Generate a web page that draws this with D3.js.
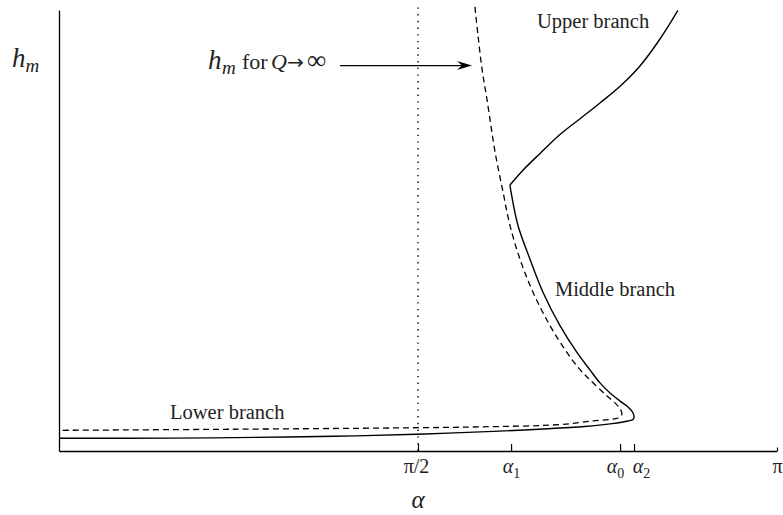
<!DOCTYPE html>
<html>
<head>
<meta charset="utf-8">
<script src="https://cdn.jsdelivr.net/npm/d3@7"></script>
<style>
  html, body { margin: 0; padding: 0; background: #fff; }
  svg { display: block; }
  .lbl { font-family: "Liberation Serif", "Times New Roman", serif; fill: #222; }
  .math { font-family: "Liberation Serif", "Times New Roman", serif; font-style: italic; fill: #222; }
</style>
</head>
<body>
<svg id="chart" width="783" height="515"></svg>
<script>
// Branches of h_m as a function of the angle alpha (radians).
// Lower + middle branch: from alpha = 0 out to the turning point alpha_2, then back up to the cusp at alpha_1.
const lowerMiddleAlpha = [0, 0.5, 1.0, 1.3, 1.6, 1.9, 2.1, 2.3, 2.42, 2.49, 2.512, 2.516, 2.512, 2.485, 2.455, 2.411, 2.367, 2.323, 2.267, 2.192, 2.118, 2.061, 2.008, 1.978, 1.973];
const lowerMiddleH     = [0.0288, 0.0292, 0.0316, 0.0344, 0.0387, 0.0445, 0.0494, 0.0555, 0.0620, 0.0680, 0.0715, 0.0766, 0.0857, 0.1018, 0.1132, 0.1315, 0.1544, 0.1841, 0.2229, 0.2844, 0.3596, 0.4347, 0.5120, 0.5871, 0.603];

// Upper branch: leaves the cusp and rises to the top of the frame.
const upperAlpha = [1.973, 2.030, 2.105, 2.192, 2.280, 2.367, 2.455, 2.542, 2.616, 2.673, 2.708];
const upperH     = [0.603, 0.6366, 0.6748, 0.7175, 0.7535, 0.7893, 0.827, 0.873, 0.924, 0.969, 0.999];

// Limit curve h_m for Q -> infinity (turning point at alpha_0).
const limitAlpha = [1.820, 1.833, 1.851, 1.873, 1.908, 1.943, 1.973, 2.017, 2.074, 2.148, 2.223, 2.280, 2.323, 2.398, 2.446, 2.463, 2.459, 2.437, 2.337, 2.192, 1.842, 1.492, 0.748, 0];
const limitH     = [1.007, 0.944, 0.866, 0.796, 0.678, 0.587, 0.512, 0.435, 0.360, 0.2846, 0.2231, 0.1844, 0.1615, 0.1247, 0.1018, 0.0859, 0.0791, 0.0735, 0.0685, 0.0599, 0.0547, 0.0524, 0.0493, 0.0469];

// Marked angles on the alpha axis.
const tickValues = [Math.PI / 2, 1.978, 2.455, 2.516, Math.PI];
const tickNames  = [["π/2", ""], ["α", "1"], ["α", "0"], ["α", "2"], ["π", ""]];

const svg = d3.select("#chart");

const x = d3.scaleLinear().domain([0, Math.PI]).range([59, 777]);
const y = d3.scaleLinear().domain([0, 1]).range([451, 10]);

const zip = (a, h) => a.map((v, i) => ({ a: v, h: h[i] }));
const line = d3.line()
  .x(d => x(d.a))
  .y(d => y(d.h))
  .curve(d3.curveCatmullRom.alpha(0.5));

// Vertical reference at alpha = pi/2
svg.append("line")
  .attr("x1", x(Math.PI / 2)).attr("x2", x(Math.PI / 2))
  .attr("y1", y(0)).attr("y2", y(1.006))
  .attr("stroke", "#000").attr("stroke-width", 1.4)
  .attr("stroke-dasharray", "1.4,5.3");

// Axes
const xAxis = d3.axisBottom(x)
  .tickValues(tickValues)
  .tickSizeInner(-7)
  .tickSizeOuter(0)
  .tickFormat("");
const gx = svg.append("g").attr("transform", `translate(0,${y(0)})`).call(xAxis);
gx.selectAll("path.domain").attr("stroke", "#000").attr("stroke-width", 1.3);
gx.selectAll(".tick line").attr("stroke", "#000").attr("stroke-width", 1.2)
  .attr("y2", (d, i) => i === tickValues.length - 1 ? -3.5 : -7);

const labelShift = [-2, 0, -5, 7, 0];
gx.selectAll(".tick").each(function (d, i) {
  const [main, sub] = tickNames[i];
  const t = d3.select(this).append("text")
    .attr("class", main === "α" ? "math" : "lbl")
    .attr("x", labelShift[i])
    .attr("y", 22)
    .attr("text-anchor", "middle")
    .attr("font-size", 20)
    .attr("fill", "#222")
    .style("font-style", main === "α" ? "italic" : "normal");
  t.append("tspan").text(main);
  if (sub) {
    t.append("tspan").attr("dy", 5).attr("font-size", 14).style("font-style", "normal").text(sub);
  }
});

const yAxis = d3.axisLeft(y).tickValues([]).tickSizeOuter(0);
const gy = svg.append("g").attr("transform", `translate(${x(0)},0)`).call(yAxis);
gy.selectAll("path.domain").attr("stroke", "#000").attr("stroke-width", 1.3);

// Curves
svg.append("path")
  .datum(zip(limitAlpha, limitH))
  .attr("d", line)
  .attr("fill", "none").attr("stroke", "#000").attr("stroke-width", 1.3)
  .attr("stroke-dasharray", "6,4");

svg.append("path")
  .datum(zip(lowerMiddleAlpha, lowerMiddleH))
  .attr("d", line)
  .attr("fill", "none").attr("stroke", "#000").attr("stroke-width", 1.4);

svg.append("path")
  .datum(zip(upperAlpha, upperH))
  .attr("d", line.curve(d3.curveMonotoneX))
  .attr("fill", "none").attr("stroke", "#000").attr("stroke-width", 1.4);

// Axis titles
const hm = svg.append("text").attr("class", "math").attr("x", 12).attr("y", 67).attr("font-size", 27);
hm.append("tspan").text("h");
hm.append("tspan").attr("dy", 5).attr("font-size", 19).text("m");

svg.append("text").attr("class", "math")
  .attr("x", x(Math.PI / 2)).attr("y", 508)
  .attr("text-anchor", "middle").attr("font-size", 25).text("α");

// Branch names
svg.append("text").attr("class", "lbl").attr("font-size", 20.5)
  .attr("x", x(2.0915)).attr("y", y(0.959)).text("Upper branch");
svg.append("text").attr("class", "lbl").attr("font-size", 20.5)
  .attr("x", x(2.170)).attr("y", y(0.3515)).text("Middle branch");
svg.append("text").attr("class", "lbl").attr("font-size", 20.5)
  .attr("x", x(0.4857)).attr("y", y(0.0726)).text("Lower branch");

// Arrow pointing at the limit curve
const tipX = x(1.807), tipY = y(0.874);
const startX = x(1.229);
svg.append("line")
  .attr("x1", startX).attr("x2", tipX - 8)
  .attr("y1", tipY).attr("y2", tipY)
  .attr("stroke", "#000").attr("stroke-width", 1.3);
svg.append("path")
  .attr("d", `M${tipX},${tipY} L${tipX - 15},${tipY - 4.5} L${tipX - 10},${tipY} L${tipX - 15},${tipY + 4.5} Z`)
  .attr("fill", "#000");

const note = svg.append("g");
note.append("text").attr("class", "math").attr("x", 208).attr("y", tipY + 3).attr("font-size", 27).text("h");
note.append("text").attr("class", "math").attr("x", 222).attr("y", tipY + 8).attr("font-size", 19).text("m");
note.append("text").attr("class", "lbl").attr("x", 242).attr("y", tipY + 3).attr("font-size", 22).text("for");
note.append("text").attr("class", "math").attr("x", 271).attr("y", tipY + 3).attr("font-size", 22).text("Q");
note.append("text").attr("x", 287).attr("y", tipY + 3).attr("font-size", 20)
  .style("font-family", "'DejaVu Sans', sans-serif").attr("fill", "#222").text("→");
note.append("text").attr("class", "lbl").attr("x", 307).attr("y", tipY + 3).attr("font-size", 27).text("∞");
</script>
</body>
</html>
